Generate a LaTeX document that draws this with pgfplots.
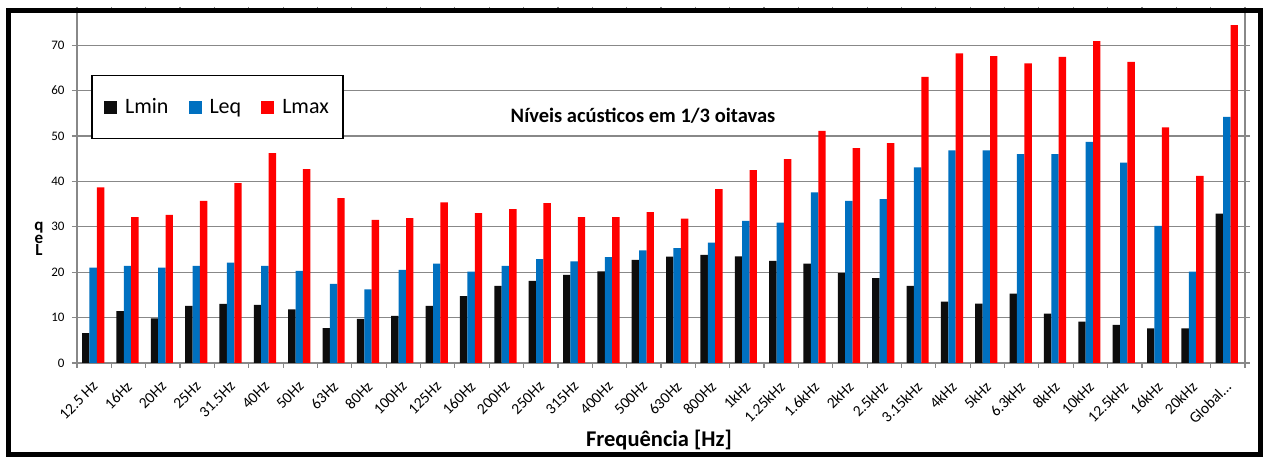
\documentclass[border=0pt]{standalone}
\usepackage{pgfplots}
\usepackage{pgfplotstable}
\pgfplotsset{compat=1.18}
\usepackage{fontspec}
\setmainfont{Carlito}
\definecolor{cmin}{HTML}{0D0D0D}
\definecolor{ceq}{HTML}{0070C0}
\definecolor{cmax}{HTML}{FF0000}
\definecolor{gridg}{HTML}{888888}

\pgfplotstableread{
x Lmin Leq Lmax
0 6.6 21.0 38.7
1 11.4 21.4 32.1
2 9.8 21.0 32.6
3 12.6 21.4 35.7
4 13.0 22.1 39.6
5 12.8 21.4 46.2
6 11.8 20.3 42.7
7 7.7 17.4 36.3
8 9.7 16.2 31.5
9 10.4 20.5 31.9
10 12.6 21.9 35.4
11 14.7 20.1 33.0
12 17.0 21.4 33.9
13 18.1 22.9 35.2
14 19.4 22.4 32.1
15 20.2 23.3 32.1
16 22.7 24.8 33.2
17 23.4 25.3 31.8
18 23.8 26.5 38.3
19 23.5 31.3 42.5
20 22.5 30.9 44.9
21 21.9 37.6 51.1
22 19.8 35.7 47.3
23 18.7 36.1 48.4
24 17.0 43.1 63.0
25 13.5 46.8 68.2
26 13.1 46.8 67.6
27 15.3 46.0 66.0
28 10.9 46.0 67.4
29 9.1 48.7 70.9
30 8.4 44.1 66.3
31 7.6 30.2 51.9
32 7.6 20.1 41.2
33 32.9 54.2 74.4
}\data

\begin{document}
\begin{tikzpicture}
\path[use as bounding box] (0pt,0pt) rectangle (1264pt,457pt);
\fill[white] (0pt,0pt) rectangle (1264pt,457pt);
\begin{axis}[
  at={(77pt,94pt)}, anchor=south west,
  scale only axis, width=1168pt, height=351pt,
  xmin=-0.5, xmax=33.5, ymin=0, ymax=77.3,
  ybar,
  bar width=7.4pt,
  xtick={0,1,...,33},
  xticklabels={12.5 Hz,16Hz,20Hz,25Hz,31.5Hz,40Hz,50Hz,63Hz,80Hz,100Hz,125Hz,160Hz,200Hz,250Hz,315Hz,400Hz,500Hz,630Hz,800Hz,1kHz,1.25kHz,1.6kHz,2kHz,2.5kHz,3.15kHz,4kHz,5kHz,6.3kHz,8kHz,10kHz,12.5kHz,16kHz,20kHz,{Global{.}{.}{.}}},
  minor xtick={-0.5,0.5,...,33.5},
  ytick={0,10,...,70},
  tick align=outside,
  major tick length=5pt,
  minor tick length=5pt,
  major x tick style={draw=none},
  minor x tick style={draw=gridg, line width=1.2pt},
  major y tick style={draw=gridg, line width=1.2pt},
  axis line style={draw=gridg, line width=1.2pt},
  ymajorgrids,
  major grid style={draw=gridg, line width=1.2pt},
  /pgf/number format/assume math mode=true,
  yticklabel style={font=\fontsize{13}{15}\selectfont, xshift=-4pt},
  xticklabel style={font=\fontsize{15.5}{18}\selectfont, xshift=1pt, yshift=-16pt, rotate=45, anchor=east, inner sep=0pt},
  legend image code/.code={\fill[#1] (0pt,-6.5pt) rectangle (13pt,6.5pt);},
  legend columns=3,
  legend style={at={(0.1203,0.729)}, anchor=center, draw=black, line width=1.3pt,
    font=\fontsize{22}{26}\selectfont, inner xsep=12pt, inner ysep=21pt,
    /tikz/every odd column/.append style={column sep=6pt},
    /tikz/every even column/.append style={column sep=18pt}},
]
\addplot[fill=cmin, draw=none, bar shift=-8.4pt] table[x=x, y=Lmin] {\data};
\addplot[fill=ceq, draw=none, bar shift=-1pt] table[x=x, y=Leq] {\data};
\addplot[fill=cmax, draw=none, bar shift=6.4pt] table[x=x, y=Lmax] {\data};
\legend{Lmin,Leq,Lmax}
\end{axis}
\node[font=\bfseries\fontsize{20.5}{24}\selectfont] at (643pt,341pt) {Níveis acústicos em 1/3 oitavas};
\node[font=\bfseries\fontsize{22.5}{26}\selectfont] at (659pt,17pt) {Frequência [Hz]};
\node[font=\bfseries\fontsize{17}{20}\selectfont, inner sep=0pt] at (39pt,229pt) {q};
\node[font=\bfseries\fontsize{17}{20}\selectfont, inner sep=0pt] at (39pt,218pt) {e};
\node[font=\bfseries\fontsize{17}{20}\selectfont, inner sep=0pt] at (39pt,207pt) {L};
\draw[line width=5pt] (8.5pt,2.5pt) rectangle (1260pt,446.5pt);
\end{tikzpicture}
\end{document}
